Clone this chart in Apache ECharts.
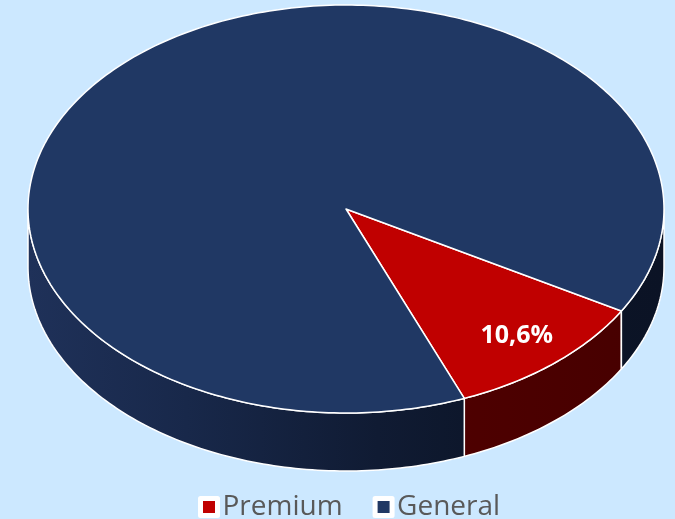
<!DOCTYPE html>
<html><head><meta charset="utf-8">
<script src="https://cdn.jsdelivr.net/npm/echarts@6/dist/echarts.min.js"></script>
<style>html,body{margin:0;padding:0;background:#CCE8FF}#c{width:675px;height:519px}</style>
</head><body><div id="c"></div>
<script>
// ---- data ----
const categories = ['Premium', 'General'];
const values = [10.6, 89.4];
const labelShown = [true, false];

// ---- styles ----
const topColors = ['#C00000', '#203864'];
const sideStops = [
  [[0, '#600000'], [0.5, '#520000'], [0.75, '#4C0000'], [1, '#460000']],
  [[0, '#1F3159'], [0.25, '#18284A'], [0.55, '#101B33'], [0.75, '#0C1528'], [1, '#0B1325']]
];
const CX = 346, CY = 209, RX = 318, RY = 204, DEPTH = 58;
const START = 30; // degrees clockwise from 3 o'clock

const total = values.reduce((a, b) => a + b, 0);
function sliceAngles(i, v) {
  let before = 0;
  for (let k = 0; k < i; k++) before += values[k];
  const a0 = START + 360 * before / total;
  return [a0, a0 + 360 * v / total];
}
function pt(deg, dy) {
  const r = deg * Math.PI / 180;
  return [CX + RX * Math.cos(r), CY + RY * Math.sin(r) + (dy || 0)];
}
function arc(a0, a1, dy) {
  const pts = [];
  const n = Math.max(2, Math.ceil(Math.abs(a1 - a0)));
  for (let j = 0; j <= n; j++) pts.push(pt(a0 + (a1 - a0) * j / n, dy));
  return pts;
}
function sideFill(i) {
  return { type: 'linear', x: CX - RX, y: 0, x2: CX + RX, y2: 0, global: true,
    colorStops: sideStops[i].map(s => ({ offset: s[0], color: s[1] })) };
}
function renderItem(params, api) {
  const i = params.seriesIndex;
  const v = api.value(0);
  const [a0, a1] = sliceAngles(i, v);
  const children = [];
  [0, 360].forEach(base => {
    const s = Math.max(a0, base), e = Math.min(a1, base + 180);
    if (e > s) {
      children.push({ type: 'polygon', z2: 1,
        shape: { points: arc(s, e, 0).concat(arc(e, s, DEPTH)) },
        style: { fill: sideFill(i), stroke: '#fff', lineWidth: 1.5, lineJoin: 'round' } });
    }
  });
  children.push({ type: 'polygon', z2: 2,
    shape: { points: [[CX, CY]].concat(arc(a0, a1, 0)) },
    style: { fill: topColors[i], stroke: '#fff', lineWidth: 1.5, lineJoin: 'round' } });
  if (labelShown[i]) {
    const mid = (a0 + a1) / 2 * Math.PI / 180, f = 0.82;
    const pct = (v / total * 100).toFixed(1).replace('.', ',') + '%';
    children.push({ type: 'text', z2: 3,
      x: CX + RX * f * Math.cos(mid), y: CY + RY * f * Math.sin(mid),
      style: { text: pct, fill: '#fff', font: 'bold 25px "Open Sans"', align: 'center', verticalAlign: 'middle' } });
  }
  return { type: 'group', children };
}

const chart = echarts.init(document.getElementById('c'));
chart.setOption({
  animation: false,
  backgroundColor: '#CCE8FF',
  legend: {
    data: categories,
    left: 193, top: 488,
    itemWidth: 17, itemHeight: 17, itemGap: 30,
    icon: 'rect',
    itemStyle: { borderColor: '#fff', borderWidth: 5, borderJoin: 'round' },
    textStyle: { fontFamily: 'Open Sans', fontSize: 28, color: '#595959' }
  },
  series: categories.map((name, i) => ({
    type: 'custom', name, coordinateSystem: 'none',
    itemStyle: { color: topColors[i] },
    data: [[values[i]]],
    renderItem
  }))
});
</script></body></html>
